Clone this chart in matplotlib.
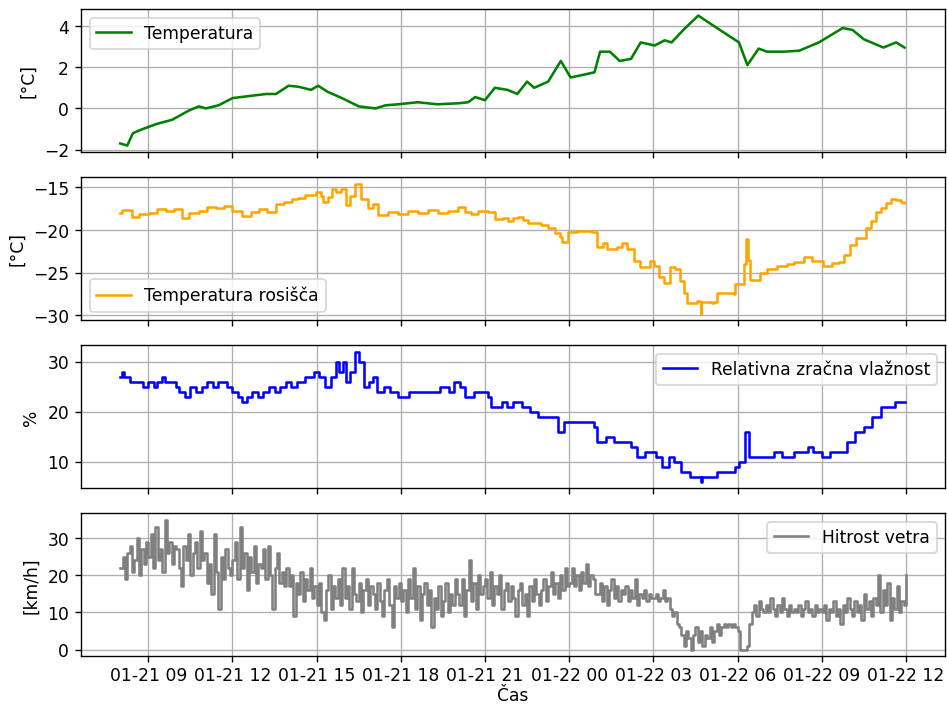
import matplotlib
matplotlib.use("Agg")
import matplotlib.pyplot as plt
import matplotlib.dates as mdates
import numpy as np
import pandas as pd

start = pd.Timestamp("2023-01-21 08:00")

# Temperatura: (hours since start, value)
temp_h = [0.0, 0.25, 0.45, 0.8, 1.3, 1.85, 2.45, 2.8, 3.05, 3.5, 4.0, 4.6, 5.2, 5.55,
          6.0, 6.35, 6.8, 7.05, 7.4, 7.9, 8.5, 9.1, 9.45, 9.9, 10.6, 11.3, 12.05, 12.4,
          12.65, 13.0, 13.35, 13.8, 14.15, 14.5, 14.75, 15.25, 15.7, 16.05, 16.4, 16.9,
          17.1, 17.45, 17.8, 18.2, 18.55, 19.05, 19.4, 19.65, 20.1, 20.6, 21.15, 21.6,
          22.05, 22.35, 22.75, 23.05, 23.65, 24.2, 24.9, 25.75, 26.1, 26.5, 27.2, 27.65, 27.95]
temp_v = [-1.7, -1.8, -1.2, -1.0, -0.75, -0.55, -0.1, 0.1, 0.0, 0.15, 0.5, 0.6, 0.7, 0.7,
          1.1, 1.05, 0.9, 1.1, 0.8, 0.5, 0.1, 0.0, 0.15, 0.2, 0.3, 0.2, 0.25, 0.3,
          0.55, 0.4, 1.0, 0.9, 0.7, 1.3, 1.0, 1.3, 2.3, 1.5, 1.6, 1.75,
          2.75, 2.75, 2.3, 2.4, 3.2, 3.05, 3.3, 3.2, 3.85, 4.5, 4.0, 3.6,
          3.2, 2.1, 2.9, 2.75, 2.75, 2.8, 3.2, 3.9, 3.8, 3.35, 2.95, 3.2, 2.95]

# Temperatura rosišča
dew_h = [0.0, 0.07, 0.43, 0.67, 1.03, 1.31, 1.63, 1.92, 2.2, 2.45, 2.8, 3.09, 3.41, 3.69,
         3.98, 4.33, 4.65, 4.93, 5.22, 5.54, 5.82, 6.11, 6.35, 6.6, 6.99, 7.14, 7.24, 7.42,
         7.53, 7.7, 7.88, 8.06, 8.2, 8.38, 8.59, 8.84, 9.02, 9.19, 9.55, 9.9, 10.26, 10.61,
         10.97, 11.32, 11.68, 12.03, 12.28, 12.5, 12.74, 13.1, 13.35, 13.63, 13.81, 13.99,
         14.16, 14.34, 14.52, 14.77, 14.98, 15.23, 15.48, 15.66, 15.76, 15.94, 16.29, 16.65,
         16.83, 17.0, 17.22, 17.36, 17.71, 17.89, 18.07, 18.32, 18.53, 18.78, 18.89, 19.03,
         19.2, 19.38, 19.6, 19.77, 19.95, 20.09, 20.2, 20.55, 20.66, 20.68, 20.7, 21.09,
         21.16, 21.26, 21.87, 21.9, 22.08, 22.22, 22.29, 22.36, 22.44, 22.79, 23.04, 23.39,
         23.75, 24.0, 24.35, 24.64, 24.92, 25.06, 25.35, 25.63, 25.81, 25.99, 26.23, 26.59,
         26.77, 26.94, 27.12, 27.3, 27.48, 27.65, 27.83, 27.94]
dew_v = [-18.0, -17.7, -18.5, -18.2, -18.0, -17.6, -17.8, -17.6, -18.6, -18.0, -17.8, -17.3,
         -17.5, -17.2, -17.8, -18.4, -17.9, -17.6, -17.9, -17.0, -16.8, -16.4, -16.3, -15.9,
         -15.6, -16.0, -16.8, -16.2, -15.2, -15.6, -15.2, -17.1, -16.0, -14.6, -16.4, -17.4,
         -17.0, -18.3, -17.9, -18.1, -17.8, -18.0, -17.7, -18.0, -17.8, -17.3, -17.9, -18.1,
         -17.8, -17.9, -18.8, -18.6, -19.0, -18.6, -18.5, -18.9, -19.2, -19.2, -19.4, -19.8,
         -20.4, -20.9, -21.4, -20.3, -20.2, -20.2, -20.3, -22.0, -21.6, -22.2, -22.0, -21.5,
         -22.2, -23.7, -24.4, -24.3, -23.6, -24.2, -25.5, -26.2, -24.4, -24.6, -26.0, -27.4,
         -28.6, -28.3, -28.4, -29.8, -28.4, -28.6, -28.5, -27.4, -27.5, -26.4, -26.3, -24.0,
         -21.1, -23.5, -25.9, -25.1, -24.6, -24.2, -24.0, -23.8, -23.2, -23.6, -23.6, -24.2,
         -23.9, -23.8, -22.9, -21.8, -21.0, -19.8, -19.0, -17.9, -17.4, -16.9, -16.4, -16.5,
         -16.7, -16.9]

# Relativna zračna vlažnost
hum_h = [0.0, 0.05, 0.12, 0.35, 0.6, 0.8, 1.0, 1.2, 1.3, 1.5, 1.6, 1.8, 2.0, 2.1, 2.3, 2.5,
         2.7, 2.9, 3.1, 3.3, 3.5, 3.8, 4.0, 4.2, 4.35, 4.5, 4.7, 4.9, 5.1, 5.3, 5.5, 5.7,
         5.9, 6.1, 6.3, 6.6, 6.9, 7.1, 7.3, 7.5, 7.7, 7.8, 7.95, 8.06, 8.2, 8.35, 8.5, 8.7,
         8.85, 9.0, 9.15, 9.4, 9.6, 9.9, 10.3, 10.7, 11.1, 11.4, 11.7, 11.9, 12.1, 12.3,
         12.6, 12.85, 13.1, 13.2, 13.6, 13.8, 14.0, 14.3, 14.6, 14.9, 15.2, 15.6, 15.8,
         16.2, 16.6, 16.9, 17.0, 17.3, 17.6, 17.9, 18.2, 18.4, 18.7, 18.9, 19.1, 19.3,
         19.55, 19.75, 20.0, 20.3, 20.6, 20.68, 20.75, 21.1, 21.25, 21.6, 21.9, 22.05,
         22.25, 22.4, 22.7, 23.0, 23.3, 23.6, 24.0, 24.3, 24.5, 24.7, 25.0, 25.3, 25.6,
         25.9, 26.2, 26.5, 26.8, 27.1, 27.4, 27.6, 27.95]
hum_v = [27, 28, 27, 26, 26, 25, 26, 25, 26, 27, 26, 26, 25, 24, 23, 25,
         24, 25, 26, 25, 26, 25, 24, 23, 22, 23, 24, 23, 24, 25, 24, 25,
         26, 25, 26, 27, 28, 27, 25, 27, 30, 28, 30, 26, 28, 32, 30, 25,
         26, 27, 24, 25, 24, 23, 24, 24, 24, 25, 24, 26, 25, 23,
         24, 24, 23, 21, 22, 21, 22, 21, 20, 19, 19, 16, 18,
         18, 18, 17, 14, 15, 14, 14, 13, 11, 12, 12, 11, 9,
         11, 10, 8, 7, 7, 6, 7, 7, 8, 8, 9, 10,
         16, 11, 11, 11, 12, 11, 12, 12, 13, 12, 11, 12, 12,
         14, 16, 17, 19, 21, 21, 22, 22]

# Hitrost vetra, every 5 minutes from 01-21 08:00 to 01-22 12:00 (one row per hour)
wind_v = [22, 25, 19, 26, 28, 21, 24, 30, 20, 27, 23, 29,
          25, 31, 22, 33, 24, 27, 21, 35, 26, 29, 23, 28,
          27, 22, 17, 28, 24, 31, 20, 26, 29, 22, 32, 24,
          26, 18, 23, 15, 31, 21, 11, 25, 19, 27, 22, 20,
          24, 29, 19, 33, 22, 26, 16, 25, 21, 28, 18, 23,
          22, 27, 19, 28, 20, 11, 22, 26, 18, 21, 17, 22,
          17, 20, 9, 18, 15, 21, 13, 19, 16, 22, 14, 17,
          12, 18, 10, 8, 16, 20, 11, 17, 14, 19, 12, 22,
          14, 17, 11, 22, 15, 13, 18, 10, 16, 19, 12, 17,
          15, 11, 18, 13, 9, 16, 19, 12, 6, 17, 14, 18,
          13, 16, 10, 19, 14, 22, 11, 17, 8, 15, 18, 12,
          16, 6, 14, 11, 17, 9, 13, 18, 10, 15, 12, 19,
          15, 12, 19, 9, 16, 24, 13, 18, 11, 20, 15, 17,
          19, 14, 21, 12, 17, 15, 20, 11, 16, 18, 13, 17,
          14, 9, 16, 18, 12, 15, 9, 17, 13, 19, 15, 12,
          16, 19, 13, 17, 21, 15, 18, 14, 20, 16, 22, 17,
          18, 22, 17, 20, 16, 21, 18, 23, 17, 20, 19, 15,
          15, 18, 13, 17, 12, 16, 19, 14, 17, 13, 16, 15,
          17, 13, 16, 14, 19, 12, 15, 14, 16, 13, 15, 14,
          14, 15, 13, 14, 16, 13, 14, 11, 9, 10, 7, 6,
          4, 1, 5, 3, 0, 4, 6, 2, 5, 1, 4, 3,
          6, 2, 5, 7, 4, 6, 7, 6, 7, 6, 7, 6,
          5, 0, 0, 0, 1, 7, 10, 12, 9, 13, 11, 10,
          12, 10, 14, 11, 9, 12, 10, 14, 11, 9, 12, 10,
          11, 10, 12, 9, 11, 13, 10, 11, 9, 12, 10, 11,
          10, 12, 8, 11, 10, 13, 9, 11, 7, 12, 10, 14,
          11, 9, 13, 10, 12, 8, 15, 11, 13, 9, 14, 12,
          20, 10, 16, 12, 18, 8, 14, 11, 17, 10, 13, 12,
          20]


def to_time(hours):
    return start + pd.to_timedelta(np.array(hours), unit="h")


temp_t = to_time(temp_h)
dew_t = to_time(dew_h)
hum_t = to_time(hum_h)
wind_t = pd.date_range(start, periods=len(wind_v), freq="5min")

plt.rcParams["xtick.major.pad"] = 2.5

fig, axes = plt.subplots(4, 1, figsize=(7.7, 5.73), dpi=123, sharex=True)
fig.subplots_adjust(left=0.0855, right=0.998, top=0.986, bottom=0.068, hspace=0.175)

series = [
    (temp_t, temp_v, "green", "Temperatura", "[°C]", "upper left", "default"),
    (dew_t, dew_v, "orange", "Temperatura rosišča", "[°C]", "lower left", "steps-post"),
    (hum_t, hum_v, "blue", "Relativna zračna vlažnost", "%", "upper right", "steps-post"),
    (wind_t, wind_v, "grey", "Hitrost vetra", "[km/h]", "upper right", "steps-post"),
]

for ax, (t, v, c, lab, ylab, loc, ds) in zip(axes, series):
    ax.plot(t, v, color=c, label=lab, drawstyle=ds)
    ax.set_ylabel(ylab)
    ax.grid(True)
    ax.legend(loc=loc)

axes[0].set_yticks([-2, 0, 2, 4])
axes[1].set_yticks([-30, -25, -20, -15])
axes[2].set_yticks([10, 20, 30])
axes[3].set_yticks([0, 10, 20, 30])

axes[-1].xaxis.set_major_locator(mdates.HourLocator(byhour=range(0, 24, 3)))
axes[-1].xaxis.set_major_formatter(mdates.DateFormatter("%m-%d %H"))
axes[-1].set_xlabel("Čas", labelpad=1)

fig.savefig("out.png", dpi=123)
